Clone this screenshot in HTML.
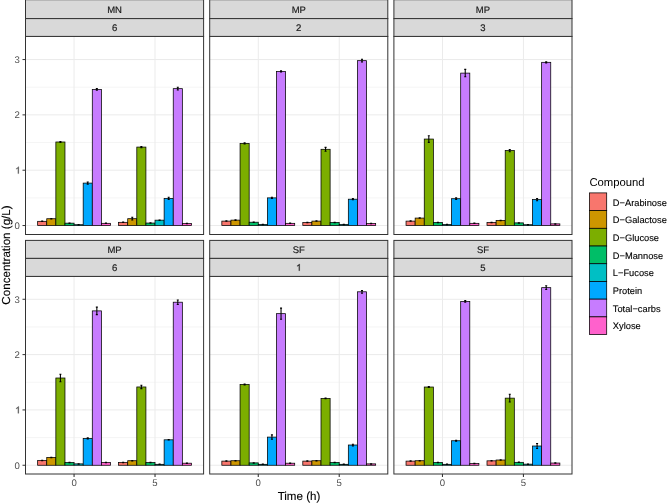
<!DOCTYPE html><html><head><meta charset="utf-8"><style>html,body{margin:0;padding:0;background:#fff;}svg{display:block;will-change:transform;}text{font-family:"Liberation Sans",sans-serif;}</style></head><body>
<svg width="668" height="503" viewBox="0 0 668 503" text-rendering="geometricPrecision">
<rect x="0" y="0" width="668" height="503" fill="#fff"/>
<line x1="25.5" x2="203.6" y1="197.88" y2="197.88" stroke="#EBEBEB" stroke-width="0.5"/>
<line x1="25.5" x2="203.6" y1="142.54" y2="142.54" stroke="#EBEBEB" stroke-width="0.5"/>
<line x1="25.5" x2="203.6" y1="87.22" y2="87.22" stroke="#EBEBEB" stroke-width="0.5"/>
<line x1="25.5" x2="203.6" y1="225.54" y2="225.54" stroke="#EBEBEB" stroke-width="1"/>
<line x1="25.5" x2="203.6" y1="170.21" y2="170.21" stroke="#EBEBEB" stroke-width="1"/>
<line x1="25.5" x2="203.6" y1="114.88" y2="114.88" stroke="#EBEBEB" stroke-width="1"/>
<line x1="25.5" x2="203.6" y1="59.55" y2="59.55" stroke="#EBEBEB" stroke-width="1"/>
<line x1="74.07" x2="74.07" y1="36.4" y2="234.5" stroke="#EBEBEB" stroke-width="1"/>
<line x1="155.03" x2="155.03" y1="36.4" y2="234.5" stroke="#EBEBEB" stroke-width="1"/>
<rect x="37.64" y="221.33" width="9.11" height="4.21" fill="#F8766D" stroke="#000" stroke-width="0.75"/>
<rect x="46.75" y="218.73" width="9.11" height="6.81" fill="#CD9600" stroke="#000" stroke-width="0.75"/>
<rect x="55.86" y="141.99" width="9.11" height="83.55" fill="#7CAE00" stroke="#000" stroke-width="0.75"/>
<rect x="64.97" y="223.16" width="9.11" height="2.38" fill="#00BE67" stroke="#000" stroke-width="0.75"/>
<rect x="74.07" y="224.71" width="9.11" height="0.83" fill="#00BFC4" stroke="#000" stroke-width="0.75"/>
<rect x="83.18" y="183.1" width="9.11" height="42.44" fill="#00A9FF" stroke="#000" stroke-width="0.75"/>
<rect x="92.29" y="89.43" width="9.11" height="136.11" fill="#C77CFF" stroke="#000" stroke-width="0.75"/>
<rect x="101.39" y="223.33" width="9.11" height="2.21" fill="#FF61CC" stroke="#000" stroke-width="0.75"/>
<path d="M41.18 221.11H43.21M42.2 221.11V221.56M41.18 221.56H43.21" stroke="#000" stroke-width="1.07" fill="none"/>
<path d="M50.29 218.51H52.32M51.3 218.51V218.96M50.29 218.96H52.32" stroke="#000" stroke-width="1.07" fill="none"/>
<path d="M59.4 141.44H61.42M60.41 141.44V142.54M59.4 142.54H61.42" stroke="#000" stroke-width="1.07" fill="none"/>
<path d="M68.51 222.94H70.53M69.52 222.94V223.38M68.51 223.38H70.53" stroke="#000" stroke-width="1.07" fill="none"/>
<path d="M77.61 224.49H79.64M78.63 224.49V224.93M77.61 224.93H79.64" stroke="#000" stroke-width="1.07" fill="none"/>
<path d="M86.72 182H88.75M87.73 182V184.21M86.72 184.21H88.75" stroke="#000" stroke-width="1.07" fill="none"/>
<path d="M95.83 88.6H97.85M96.84 88.6V90.26M95.83 90.26H97.85" stroke="#000" stroke-width="1.07" fill="none"/>
<path d="M104.94 223.11H106.96M105.95 223.11V223.55M104.94 223.55H106.96" stroke="#000" stroke-width="1.07" fill="none"/>
<rect x="118.6" y="222.33" width="9.11" height="3.21" fill="#F8766D" stroke="#000" stroke-width="0.75"/>
<rect x="127.71" y="218.68" width="9.11" height="6.86" fill="#CD9600" stroke="#000" stroke-width="0.75"/>
<rect x="136.81" y="147.08" width="9.11" height="78.46" fill="#7CAE00" stroke="#000" stroke-width="0.75"/>
<rect x="145.92" y="223.05" width="9.11" height="2.49" fill="#00BE67" stroke="#000" stroke-width="0.75"/>
<rect x="155.03" y="220.17" width="9.11" height="5.37" fill="#00BFC4" stroke="#000" stroke-width="0.75"/>
<rect x="164.13" y="198.43" width="9.11" height="27.11" fill="#00A9FF" stroke="#000" stroke-width="0.75"/>
<rect x="173.24" y="88.65" width="9.11" height="136.89" fill="#C77CFF" stroke="#000" stroke-width="0.75"/>
<rect x="182.35" y="223.6" width="9.11" height="1.94" fill="#FF61CC" stroke="#000" stroke-width="0.75"/>
<path d="M122.14 222.11H124.16M123.15 222.11V222.55M122.14 222.55H124.16" stroke="#000" stroke-width="1.07" fill="none"/>
<path d="M131.25 217.3H133.27M132.26 217.3V220.06M131.25 220.06H133.27" stroke="#000" stroke-width="1.07" fill="none"/>
<path d="M140.35 146.53H142.38M141.37 146.53V147.64M140.35 147.64H142.38" stroke="#000" stroke-width="1.07" fill="none"/>
<path d="M149.46 222.83H151.49M150.47 222.83V223.27M149.46 223.27H151.49" stroke="#000" stroke-width="1.07" fill="none"/>
<path d="M158.57 219.95H160.59M159.58 219.95V220.39M158.57 220.39H160.59" stroke="#000" stroke-width="1.07" fill="none"/>
<path d="M167.68 197.32H169.7M168.69 197.32V199.53M167.68 199.53H169.7" stroke="#000" stroke-width="1.07" fill="none"/>
<path d="M176.78 87.27H178.81M177.8 87.27V90.04M176.78 90.04H178.81" stroke="#000" stroke-width="1.07" fill="none"/>
<path d="M185.89 223.38H187.92M186.9 223.38V223.82M185.89 223.82H187.92" stroke="#000" stroke-width="1.07" fill="none"/>
<rect x="25.5" y="36.4" width="178.1" height="198.1" fill="none" stroke="#333333" stroke-width="1"/>
<rect x="25.5" y="-0.3" width="178.1" height="18.9" fill="#D9D9D9" stroke="#333333" stroke-width="1"/>
<text x="114.55" y="12.75" font-size="9.5" fill="#1A1A1A" stroke="#1A1A1A" stroke-width="0.18" text-anchor="middle">MN</text>
<rect x="25.5" y="18.6" width="178.1" height="17.8" fill="#D9D9D9" stroke="#333333" stroke-width="1"/>
<text x="114.55" y="31.2" font-size="9.5" fill="#1A1A1A" stroke="#1A1A1A" stroke-width="0.18" text-anchor="middle">6</text>
<line x1="22.5" x2="25.5" y1="225.54" y2="225.54" stroke="#333333" stroke-width="1"/>
<text x="19.8" y="228.94" font-size="9.6" fill="#4D4D4D" text-anchor="end">0</text>
<line x1="22.5" x2="25.5" y1="170.21" y2="170.21" stroke="#333333" stroke-width="1"/>
<path transform="translate(15.16,173.61) scale(0.00469,-0.00469)" d="M763 0L583 0L583 1147Q518 1085 413 1023Q307 961 223 930L223 1104Q374 1175 487 1276Q600 1377 647 1472L763 1472Z" fill="#4D4D4D" stroke="#4D4D4D" stroke-width="53.3"/>
<line x1="22.5" x2="25.5" y1="114.88" y2="114.88" stroke="#333333" stroke-width="1"/>
<text x="19.8" y="118.28" font-size="9.6" fill="#4D4D4D" text-anchor="end">2</text>
<line x1="22.5" x2="25.5" y1="59.55" y2="59.55" stroke="#333333" stroke-width="1"/>
<text x="19.8" y="62.95" font-size="9.6" fill="#4D4D4D" text-anchor="end">3</text>
<line x1="209.7" x2="387.8" y1="197.88" y2="197.88" stroke="#EBEBEB" stroke-width="0.5"/>
<line x1="209.7" x2="387.8" y1="142.54" y2="142.54" stroke="#EBEBEB" stroke-width="0.5"/>
<line x1="209.7" x2="387.8" y1="87.22" y2="87.22" stroke="#EBEBEB" stroke-width="0.5"/>
<line x1="209.7" x2="387.8" y1="225.54" y2="225.54" stroke="#EBEBEB" stroke-width="1"/>
<line x1="209.7" x2="387.8" y1="170.21" y2="170.21" stroke="#EBEBEB" stroke-width="1"/>
<line x1="209.7" x2="387.8" y1="114.88" y2="114.88" stroke="#EBEBEB" stroke-width="1"/>
<line x1="209.7" x2="387.8" y1="59.55" y2="59.55" stroke="#EBEBEB" stroke-width="1"/>
<line x1="258.27" x2="258.27" y1="36.4" y2="234.5" stroke="#EBEBEB" stroke-width="1"/>
<line x1="339.23" x2="339.23" y1="36.4" y2="234.5" stroke="#EBEBEB" stroke-width="1"/>
<rect x="221.84" y="221.11" width="9.11" height="4.43" fill="#F8766D" stroke="#000" stroke-width="0.75"/>
<rect x="230.95" y="220.12" width="9.11" height="5.42" fill="#CD9600" stroke="#000" stroke-width="0.75"/>
<rect x="240.06" y="143.37" width="9.11" height="82.17" fill="#7CAE00" stroke="#000" stroke-width="0.75"/>
<rect x="249.17" y="222.22" width="9.11" height="3.32" fill="#00BE67" stroke="#000" stroke-width="0.75"/>
<rect x="258.27" y="224.43" width="9.11" height="1.11" fill="#00BFC4" stroke="#000" stroke-width="0.75"/>
<rect x="267.38" y="197.88" width="9.11" height="27.66" fill="#00A9FF" stroke="#000" stroke-width="0.75"/>
<rect x="276.49" y="71.45" width="9.11" height="154.09" fill="#C77CFF" stroke="#000" stroke-width="0.75"/>
<rect x="285.59" y="223.33" width="9.11" height="2.21" fill="#FF61CC" stroke="#000" stroke-width="0.75"/>
<path d="M225.38 220.89H227.41M226.4 220.89V221.33M225.38 221.33H227.41" stroke="#000" stroke-width="1.07" fill="none"/>
<path d="M234.49 219.9H236.52M235.5 219.9V220.34M234.49 220.34H236.52" stroke="#000" stroke-width="1.07" fill="none"/>
<path d="M243.6 142.82H245.62M244.61 142.82V143.93M243.6 143.93H245.62" stroke="#000" stroke-width="1.07" fill="none"/>
<path d="M252.71 222H254.73M253.72 222V222.44M252.71 222.44H254.73" stroke="#000" stroke-width="1.07" fill="none"/>
<path d="M261.81 224.21H263.84M262.83 224.21V224.65M261.81 224.65H263.84" stroke="#000" stroke-width="1.07" fill="none"/>
<path d="M270.92 197.32H272.95M271.93 197.32V198.43M270.92 198.43H272.95" stroke="#000" stroke-width="1.07" fill="none"/>
<path d="M280.03 70.89H282.05M281.04 70.89V72M280.03 72H282.05" stroke="#000" stroke-width="1.07" fill="none"/>
<path d="M289.14 223.11H291.16M290.15 223.11V223.55M289.14 223.55H291.16" stroke="#000" stroke-width="1.07" fill="none"/>
<rect x="302.8" y="222.5" width="9.11" height="3.04" fill="#F8766D" stroke="#000" stroke-width="0.75"/>
<rect x="311.91" y="221.11" width="9.11" height="4.43" fill="#CD9600" stroke="#000" stroke-width="0.75"/>
<rect x="321.01" y="149.3" width="9.11" height="76.24" fill="#7CAE00" stroke="#000" stroke-width="0.75"/>
<rect x="330.12" y="222.5" width="9.11" height="3.04" fill="#00BE67" stroke="#000" stroke-width="0.75"/>
<rect x="339.23" y="224.43" width="9.11" height="1.11" fill="#00BFC4" stroke="#000" stroke-width="0.75"/>
<rect x="348.33" y="199.2" width="9.11" height="26.34" fill="#00A9FF" stroke="#000" stroke-width="0.75"/>
<rect x="357.44" y="60.66" width="9.11" height="164.88" fill="#C77CFF" stroke="#000" stroke-width="0.75"/>
<rect x="366.55" y="223.6" width="9.11" height="1.94" fill="#FF61CC" stroke="#000" stroke-width="0.75"/>
<path d="M306.34 222.28H308.36M307.35 222.28V222.72M306.34 222.72H308.36" stroke="#000" stroke-width="1.07" fill="none"/>
<path d="M315.45 220.89H317.47M316.46 220.89V221.33M315.45 221.33H317.47" stroke="#000" stroke-width="1.07" fill="none"/>
<path d="M324.55 147.36H326.58M325.57 147.36V151.23M324.55 151.23H326.58" stroke="#000" stroke-width="1.07" fill="none"/>
<path d="M333.66 222.28H335.69M334.67 222.28V222.72M333.66 222.72H335.69" stroke="#000" stroke-width="1.07" fill="none"/>
<path d="M342.77 224.21H344.79M343.78 224.21V224.65M342.77 224.65H344.79" stroke="#000" stroke-width="1.07" fill="none"/>
<path d="M351.88 198.65H353.9M352.89 198.65V199.76M351.88 199.76H353.9" stroke="#000" stroke-width="1.07" fill="none"/>
<path d="M360.98 59.27H363.01M362 59.27V62.04M360.98 62.04H363.01" stroke="#000" stroke-width="1.07" fill="none"/>
<path d="M370.09 223.38H372.12M371.1 223.38V223.82M370.09 223.82H372.12" stroke="#000" stroke-width="1.07" fill="none"/>
<rect x="209.7" y="36.4" width="178.1" height="198.1" fill="none" stroke="#333333" stroke-width="1"/>
<rect x="209.7" y="-0.3" width="178.1" height="18.9" fill="#D9D9D9" stroke="#333333" stroke-width="1"/>
<text x="298.75" y="12.75" font-size="9.5" fill="#1A1A1A" stroke="#1A1A1A" stroke-width="0.18" text-anchor="middle">MP</text>
<rect x="209.7" y="18.6" width="178.1" height="17.8" fill="#D9D9D9" stroke="#333333" stroke-width="1"/>
<text x="298.75" y="31.2" font-size="9.5" fill="#1A1A1A" stroke="#1A1A1A" stroke-width="0.18" text-anchor="middle">2</text>
<line x1="393.9" x2="572" y1="197.88" y2="197.88" stroke="#EBEBEB" stroke-width="0.5"/>
<line x1="393.9" x2="572" y1="142.54" y2="142.54" stroke="#EBEBEB" stroke-width="0.5"/>
<line x1="393.9" x2="572" y1="87.22" y2="87.22" stroke="#EBEBEB" stroke-width="0.5"/>
<line x1="393.9" x2="572" y1="225.54" y2="225.54" stroke="#EBEBEB" stroke-width="1"/>
<line x1="393.9" x2="572" y1="170.21" y2="170.21" stroke="#EBEBEB" stroke-width="1"/>
<line x1="393.9" x2="572" y1="114.88" y2="114.88" stroke="#EBEBEB" stroke-width="1"/>
<line x1="393.9" x2="572" y1="59.55" y2="59.55" stroke="#EBEBEB" stroke-width="1"/>
<line x1="442.47" x2="442.47" y1="36.4" y2="234.5" stroke="#EBEBEB" stroke-width="1"/>
<line x1="523.43" x2="523.43" y1="36.4" y2="234.5" stroke="#EBEBEB" stroke-width="1"/>
<rect x="406.04" y="221.11" width="9.11" height="4.43" fill="#F8766D" stroke="#000" stroke-width="0.75"/>
<rect x="415.15" y="218.07" width="9.11" height="7.47" fill="#CD9600" stroke="#000" stroke-width="0.75"/>
<rect x="424.26" y="139.06" width="9.11" height="86.48" fill="#7CAE00" stroke="#000" stroke-width="0.75"/>
<rect x="433.37" y="222.5" width="9.11" height="3.04" fill="#00BE67" stroke="#000" stroke-width="0.75"/>
<rect x="442.47" y="224.43" width="9.11" height="1.11" fill="#00BFC4" stroke="#000" stroke-width="0.75"/>
<rect x="451.58" y="198.7" width="9.11" height="26.84" fill="#00A9FF" stroke="#000" stroke-width="0.75"/>
<rect x="460.69" y="73.11" width="9.11" height="152.43" fill="#C77CFF" stroke="#000" stroke-width="0.75"/>
<rect x="469.79" y="223.33" width="9.11" height="2.21" fill="#FF61CC" stroke="#000" stroke-width="0.75"/>
<path d="M409.58 220.89H411.61M410.6 220.89V221.33M409.58 221.33H411.61" stroke="#000" stroke-width="1.07" fill="none"/>
<path d="M418.69 217.85H420.72M419.7 217.85V218.29M418.69 218.29H420.72" stroke="#000" stroke-width="1.07" fill="none"/>
<path d="M427.8 135.74H429.82M428.81 135.74V142.38M427.8 142.38H429.82" stroke="#000" stroke-width="1.07" fill="none"/>
<path d="M436.91 222.28H438.93M437.92 222.28V222.72M436.91 222.72H438.93" stroke="#000" stroke-width="1.07" fill="none"/>
<path d="M446.01 224.21H448.04M447.03 224.21V224.65M446.01 224.65H448.04" stroke="#000" stroke-width="1.07" fill="none"/>
<path d="M455.12 197.88H457.15M456.13 197.88V199.53M455.12 199.53H457.15" stroke="#000" stroke-width="1.07" fill="none"/>
<path d="M464.23 69.4H466.25M465.24 69.4V76.81M464.23 76.81H466.25" stroke="#000" stroke-width="1.07" fill="none"/>
<path d="M473.34 223.11H475.36M474.35 223.11V223.55M473.34 223.55H475.36" stroke="#000" stroke-width="1.07" fill="none"/>
<rect x="487" y="222.5" width="9.11" height="3.04" fill="#F8766D" stroke="#000" stroke-width="0.75"/>
<rect x="496.11" y="220.39" width="9.11" height="5.15" fill="#CD9600" stroke="#000" stroke-width="0.75"/>
<rect x="505.21" y="150.57" width="9.11" height="74.97" fill="#7CAE00" stroke="#000" stroke-width="0.75"/>
<rect x="514.32" y="222.88" width="9.11" height="2.66" fill="#00BE67" stroke="#000" stroke-width="0.75"/>
<rect x="523.43" y="224.71" width="9.11" height="0.83" fill="#00BFC4" stroke="#000" stroke-width="0.75"/>
<rect x="532.53" y="199.59" width="9.11" height="25.95" fill="#00A9FF" stroke="#000" stroke-width="0.75"/>
<rect x="541.64" y="62.32" width="9.11" height="163.22" fill="#C77CFF" stroke="#000" stroke-width="0.75"/>
<rect x="550.75" y="223.88" width="9.11" height="1.66" fill="#FF61CC" stroke="#000" stroke-width="0.75"/>
<path d="M490.54 222.28H492.56M491.55 222.28V222.72M490.54 222.72H492.56" stroke="#000" stroke-width="1.07" fill="none"/>
<path d="M499.65 220.17H501.67M500.66 220.17V220.62M499.65 220.62H501.67" stroke="#000" stroke-width="1.07" fill="none"/>
<path d="M508.75 149.46H510.78M509.77 149.46V151.67M508.75 151.67H510.78" stroke="#000" stroke-width="1.07" fill="none"/>
<path d="M517.86 222.66H519.89M518.87 222.66V223.11M517.86 223.11H519.89" stroke="#000" stroke-width="1.07" fill="none"/>
<path d="M526.97 224.49H528.99M527.98 224.49V224.93M526.97 224.93H528.99" stroke="#000" stroke-width="1.07" fill="none"/>
<path d="M536.08 198.48H538.1M537.09 198.48V200.7M536.08 200.7H538.1" stroke="#000" stroke-width="1.07" fill="none"/>
<path d="M545.18 61.76H547.21M546.2 61.76V62.87M545.18 62.87H547.21" stroke="#000" stroke-width="1.07" fill="none"/>
<path d="M554.29 223.66H556.32M555.3 223.66V224.1M554.29 224.1H556.32" stroke="#000" stroke-width="1.07" fill="none"/>
<rect x="393.9" y="36.4" width="178.1" height="198.1" fill="none" stroke="#333333" stroke-width="1"/>
<rect x="393.9" y="-0.3" width="178.1" height="18.9" fill="#D9D9D9" stroke="#333333" stroke-width="1"/>
<text x="482.95" y="12.75" font-size="9.5" fill="#1A1A1A" stroke="#1A1A1A" stroke-width="0.18" text-anchor="middle">MP</text>
<rect x="393.9" y="18.6" width="178.1" height="17.8" fill="#D9D9D9" stroke="#333333" stroke-width="1"/>
<text x="482.95" y="31.2" font-size="9.5" fill="#1A1A1A" stroke="#1A1A1A" stroke-width="0.18" text-anchor="middle">3</text>
<line x1="25.5" x2="203.6" y1="437.59" y2="437.59" stroke="#EBEBEB" stroke-width="0.5"/>
<line x1="25.5" x2="203.6" y1="382.26" y2="382.26" stroke="#EBEBEB" stroke-width="0.5"/>
<line x1="25.5" x2="203.6" y1="326.94" y2="326.94" stroke="#EBEBEB" stroke-width="0.5"/>
<line x1="25.5" x2="203.6" y1="465.26" y2="465.26" stroke="#EBEBEB" stroke-width="1"/>
<line x1="25.5" x2="203.6" y1="409.93" y2="409.93" stroke="#EBEBEB" stroke-width="1"/>
<line x1="25.5" x2="203.6" y1="354.6" y2="354.6" stroke="#EBEBEB" stroke-width="1"/>
<line x1="25.5" x2="203.6" y1="299.27" y2="299.27" stroke="#EBEBEB" stroke-width="1"/>
<line x1="74.07" x2="74.07" y1="276.4" y2="474" stroke="#EBEBEB" stroke-width="1"/>
<line x1="155.03" x2="155.03" y1="276.4" y2="474" stroke="#EBEBEB" stroke-width="1"/>
<rect x="37.64" y="460.5" width="9.11" height="4.76" fill="#F8766D" stroke="#000" stroke-width="0.75"/>
<rect x="46.75" y="457.4" width="9.11" height="7.86" fill="#CD9600" stroke="#000" stroke-width="0.75"/>
<rect x="55.86" y="378" width="9.11" height="87.26" fill="#7CAE00" stroke="#000" stroke-width="0.75"/>
<rect x="64.97" y="462.49" width="9.11" height="2.77" fill="#00BE67" stroke="#000" stroke-width="0.75"/>
<rect x="74.07" y="463.88" width="9.11" height="1.38" fill="#00BFC4" stroke="#000" stroke-width="0.75"/>
<rect x="83.18" y="438.42" width="9.11" height="26.84" fill="#00A9FF" stroke="#000" stroke-width="0.75"/>
<rect x="92.29" y="310.89" width="9.11" height="154.37" fill="#C77CFF" stroke="#000" stroke-width="0.75"/>
<rect x="101.39" y="462.49" width="9.11" height="2.77" fill="#FF61CC" stroke="#000" stroke-width="0.75"/>
<path d="M41.18 460.28H43.21M42.2 460.28V460.72M41.18 460.72H43.21" stroke="#000" stroke-width="1.07" fill="none"/>
<path d="M50.29 457.18H52.32M51.3 457.18V457.62M50.29 457.62H52.32" stroke="#000" stroke-width="1.07" fill="none"/>
<path d="M59.4 374.24H61.42M60.41 374.24V381.77M59.4 381.77H61.42" stroke="#000" stroke-width="1.07" fill="none"/>
<path d="M68.51 462.27H70.53M69.52 462.27V462.71M68.51 462.71H70.53" stroke="#000" stroke-width="1.07" fill="none"/>
<path d="M77.61 463.66H79.64M78.63 463.66V464.1M77.61 464.1H79.64" stroke="#000" stroke-width="1.07" fill="none"/>
<path d="M86.72 437.87H88.75M87.73 437.87V438.98M86.72 438.98H88.75" stroke="#000" stroke-width="1.07" fill="none"/>
<path d="M95.83 307.13H97.85M96.84 307.13V314.65M95.83 314.65H97.85" stroke="#000" stroke-width="1.07" fill="none"/>
<path d="M104.94 462.27H106.96M105.95 462.27V462.71M104.94 462.71H106.96" stroke="#000" stroke-width="1.07" fill="none"/>
<rect x="118.6" y="462.49" width="9.11" height="2.77" fill="#F8766D" stroke="#000" stroke-width="0.75"/>
<rect x="127.71" y="460.72" width="9.11" height="4.54" fill="#CD9600" stroke="#000" stroke-width="0.75"/>
<rect x="136.81" y="386.97" width="9.11" height="78.29" fill="#7CAE00" stroke="#000" stroke-width="0.75"/>
<rect x="145.92" y="462.49" width="9.11" height="2.77" fill="#00BE67" stroke="#000" stroke-width="0.75"/>
<rect x="155.03" y="464.32" width="9.11" height="0.94" fill="#00BFC4" stroke="#000" stroke-width="0.75"/>
<rect x="164.13" y="439.81" width="9.11" height="25.45" fill="#00A9FF" stroke="#000" stroke-width="0.75"/>
<rect x="173.24" y="302.2" width="9.11" height="163.06" fill="#C77CFF" stroke="#000" stroke-width="0.75"/>
<rect x="182.35" y="463.21" width="9.11" height="2.05" fill="#FF61CC" stroke="#000" stroke-width="0.75"/>
<path d="M122.14 462.27H124.16M123.15 462.27V462.71M122.14 462.71H124.16" stroke="#000" stroke-width="1.07" fill="none"/>
<path d="M131.25 460.5H133.27M132.26 460.5V460.94M131.25 460.94H133.27" stroke="#000" stroke-width="1.07" fill="none"/>
<path d="M140.35 385.31H142.38M141.37 385.31V388.63M140.35 388.63H142.38" stroke="#000" stroke-width="1.07" fill="none"/>
<path d="M149.46 462.27H151.49M150.47 462.27V462.71M149.46 462.71H151.49" stroke="#000" stroke-width="1.07" fill="none"/>
<path d="M158.57 464.1H160.59M159.58 464.1V464.54M158.57 464.54H160.59" stroke="#000" stroke-width="1.07" fill="none"/>
<path d="M167.68 439.59H169.7M168.69 439.59V440.03M167.68 440.03H169.7" stroke="#000" stroke-width="1.07" fill="none"/>
<path d="M176.78 299.99H178.81M177.8 299.99V304.42M176.78 304.42H178.81" stroke="#000" stroke-width="1.07" fill="none"/>
<path d="M185.89 462.99H187.92M186.9 462.99V463.43M185.89 463.43H187.92" stroke="#000" stroke-width="1.07" fill="none"/>
<rect x="25.5" y="276.4" width="178.1" height="197.6" fill="none" stroke="#333333" stroke-width="1"/>
<rect x="25.5" y="240.4" width="178.1" height="18" fill="#D9D9D9" stroke="#333333" stroke-width="1"/>
<text x="114.55" y="252.75" font-size="9.5" fill="#1A1A1A" stroke="#1A1A1A" stroke-width="0.18" text-anchor="middle">MP</text>
<rect x="25.5" y="258.4" width="178.1" height="18" fill="#D9D9D9" stroke="#333333" stroke-width="1"/>
<text x="114.55" y="270.75" font-size="9.5" fill="#1A1A1A" stroke="#1A1A1A" stroke-width="0.18" text-anchor="middle">6</text>
<line x1="22.5" x2="25.5" y1="465.26" y2="465.26" stroke="#333333" stroke-width="1"/>
<text x="19.8" y="468.66" font-size="9.6" fill="#4D4D4D" text-anchor="end">0</text>
<line x1="22.5" x2="25.5" y1="409.93" y2="409.93" stroke="#333333" stroke-width="1"/>
<path transform="translate(15.16,413.33) scale(0.00469,-0.00469)" d="M763 0L583 0L583 1147Q518 1085 413 1023Q307 961 223 930L223 1104Q374 1175 487 1276Q600 1377 647 1472L763 1472Z" fill="#4D4D4D" stroke="#4D4D4D" stroke-width="53.3"/>
<line x1="22.5" x2="25.5" y1="354.6" y2="354.6" stroke="#333333" stroke-width="1"/>
<text x="19.8" y="358" font-size="9.6" fill="#4D4D4D" text-anchor="end">2</text>
<line x1="22.5" x2="25.5" y1="299.27" y2="299.27" stroke="#333333" stroke-width="1"/>
<text x="19.8" y="302.67" font-size="9.6" fill="#4D4D4D" text-anchor="end">3</text>
<line x1="74.07" x2="74.07" y1="474" y2="477" stroke="#333333" stroke-width="1.07"/>
<text x="74.07" y="486" font-size="9.6" fill="#4D4D4D" text-anchor="middle">0</text>
<line x1="155.03" x2="155.03" y1="474" y2="477" stroke="#333333" stroke-width="1.07"/>
<text x="155.03" y="486" font-size="9.6" fill="#4D4D4D" text-anchor="middle">5</text>
<line x1="209.7" x2="387.8" y1="437.59" y2="437.59" stroke="#EBEBEB" stroke-width="0.5"/>
<line x1="209.7" x2="387.8" y1="382.26" y2="382.26" stroke="#EBEBEB" stroke-width="0.5"/>
<line x1="209.7" x2="387.8" y1="326.94" y2="326.94" stroke="#EBEBEB" stroke-width="0.5"/>
<line x1="209.7" x2="387.8" y1="465.26" y2="465.26" stroke="#EBEBEB" stroke-width="1"/>
<line x1="209.7" x2="387.8" y1="409.93" y2="409.93" stroke="#EBEBEB" stroke-width="1"/>
<line x1="209.7" x2="387.8" y1="354.6" y2="354.6" stroke="#EBEBEB" stroke-width="1"/>
<line x1="209.7" x2="387.8" y1="299.27" y2="299.27" stroke="#EBEBEB" stroke-width="1"/>
<line x1="258.27" x2="258.27" y1="276.4" y2="474" stroke="#EBEBEB" stroke-width="1"/>
<line x1="339.23" x2="339.23" y1="276.4" y2="474" stroke="#EBEBEB" stroke-width="1"/>
<rect x="221.84" y="461.11" width="9.11" height="4.15" fill="#F8766D" stroke="#000" stroke-width="0.75"/>
<rect x="230.95" y="460.72" width="9.11" height="4.54" fill="#CD9600" stroke="#000" stroke-width="0.75"/>
<rect x="240.06" y="384.48" width="9.11" height="80.78" fill="#7CAE00" stroke="#000" stroke-width="0.75"/>
<rect x="249.17" y="462.88" width="9.11" height="2.38" fill="#00BE67" stroke="#000" stroke-width="0.75"/>
<rect x="258.27" y="464.32" width="9.11" height="0.94" fill="#00BFC4" stroke="#000" stroke-width="0.75"/>
<rect x="267.38" y="437.1" width="9.11" height="28.16" fill="#00A9FF" stroke="#000" stroke-width="0.75"/>
<rect x="276.49" y="313.66" width="9.11" height="151.6" fill="#C77CFF" stroke="#000" stroke-width="0.75"/>
<rect x="285.59" y="463.21" width="9.11" height="2.05" fill="#FF61CC" stroke="#000" stroke-width="0.75"/>
<path d="M225.38 460.89H227.41M226.4 460.89V461.33M225.38 461.33H227.41" stroke="#000" stroke-width="1.07" fill="none"/>
<path d="M234.49 460.5H236.52M235.5 460.5V460.94M234.49 460.94H236.52" stroke="#000" stroke-width="1.07" fill="none"/>
<path d="M243.6 383.92H245.62M244.61 383.92V385.03M243.6 385.03H245.62" stroke="#000" stroke-width="1.07" fill="none"/>
<path d="M252.71 462.66H254.73M253.72 462.66V463.1M252.71 463.1H254.73" stroke="#000" stroke-width="1.07" fill="none"/>
<path d="M261.81 464.1H263.84M262.83 464.1V464.54M261.81 464.54H263.84" stroke="#000" stroke-width="1.07" fill="none"/>
<path d="M270.92 434.88H272.95M271.93 434.88V439.31M270.92 439.31H272.95" stroke="#000" stroke-width="1.07" fill="none"/>
<path d="M280.03 308.12H282.05M281.04 308.12V319.19M280.03 319.19H282.05" stroke="#000" stroke-width="1.07" fill="none"/>
<path d="M289.14 462.99H291.16M290.15 462.99V463.43M289.14 463.43H291.16" stroke="#000" stroke-width="1.07" fill="none"/>
<rect x="302.8" y="461.11" width="9.11" height="4.15" fill="#F8766D" stroke="#000" stroke-width="0.75"/>
<rect x="311.91" y="460.72" width="9.11" height="4.54" fill="#CD9600" stroke="#000" stroke-width="0.75"/>
<rect x="321.01" y="398.42" width="9.11" height="66.84" fill="#7CAE00" stroke="#000" stroke-width="0.75"/>
<rect x="330.12" y="462.49" width="9.11" height="2.77" fill="#00BE67" stroke="#000" stroke-width="0.75"/>
<rect x="339.23" y="464.32" width="9.11" height="0.94" fill="#00BFC4" stroke="#000" stroke-width="0.75"/>
<rect x="348.33" y="445.01" width="9.11" height="20.25" fill="#00A9FF" stroke="#000" stroke-width="0.75"/>
<rect x="357.44" y="291.8" width="9.11" height="173.46" fill="#C77CFF" stroke="#000" stroke-width="0.75"/>
<rect x="366.55" y="463.88" width="9.11" height="1.38" fill="#FF61CC" stroke="#000" stroke-width="0.75"/>
<path d="M306.34 460.89H308.36M307.35 460.89V461.33M306.34 461.33H308.36" stroke="#000" stroke-width="1.07" fill="none"/>
<path d="M315.45 460.5H317.47M316.46 460.5V460.94M315.45 460.94H317.47" stroke="#000" stroke-width="1.07" fill="none"/>
<path d="M324.55 398.14H326.58M325.57 398.14V398.7M324.55 398.7H326.58" stroke="#000" stroke-width="1.07" fill="none"/>
<path d="M333.66 462.27H335.69M334.67 462.27V462.71M333.66 462.71H335.69" stroke="#000" stroke-width="1.07" fill="none"/>
<path d="M342.77 464.1H344.79M343.78 464.1V464.54M342.77 464.54H344.79" stroke="#000" stroke-width="1.07" fill="none"/>
<path d="M351.88 444.18H353.9M352.89 444.18V445.84M351.88 445.84H353.9" stroke="#000" stroke-width="1.07" fill="none"/>
<path d="M360.98 290.42H363.01M362 290.42V293.18M360.98 293.18H363.01" stroke="#000" stroke-width="1.07" fill="none"/>
<path d="M370.09 463.66H372.12M371.1 463.66V464.1M370.09 464.1H372.12" stroke="#000" stroke-width="1.07" fill="none"/>
<rect x="209.7" y="276.4" width="178.1" height="197.6" fill="none" stroke="#333333" stroke-width="1"/>
<rect x="209.7" y="240.4" width="178.1" height="18" fill="#D9D9D9" stroke="#333333" stroke-width="1"/>
<text x="298.75" y="252.75" font-size="9.5" fill="#1A1A1A" stroke="#1A1A1A" stroke-width="0.18" text-anchor="middle">SF</text>
<rect x="209.7" y="258.4" width="178.1" height="18" fill="#D9D9D9" stroke="#333333" stroke-width="1"/>
<path transform="translate(296.11,270.75) scale(0.00464,-0.00464)" d="M763 0L583 0L583 1147Q518 1085 413 1023Q307 961 223 930L223 1104Q374 1175 487 1276Q600 1377 647 1472L763 1472Z" fill="#1A1A1A" stroke="#1A1A1A" stroke-width="38.8"/>
<line x1="258.27" x2="258.27" y1="474" y2="477" stroke="#333333" stroke-width="1.07"/>
<text x="258.27" y="486" font-size="9.6" fill="#4D4D4D" text-anchor="middle">0</text>
<line x1="339.23" x2="339.23" y1="474" y2="477" stroke="#333333" stroke-width="1.07"/>
<text x="339.23" y="486" font-size="9.6" fill="#4D4D4D" text-anchor="middle">5</text>
<line x1="393.9" x2="572" y1="437.59" y2="437.59" stroke="#EBEBEB" stroke-width="0.5"/>
<line x1="393.9" x2="572" y1="382.26" y2="382.26" stroke="#EBEBEB" stroke-width="0.5"/>
<line x1="393.9" x2="572" y1="326.94" y2="326.94" stroke="#EBEBEB" stroke-width="0.5"/>
<line x1="393.9" x2="572" y1="465.26" y2="465.26" stroke="#EBEBEB" stroke-width="1"/>
<line x1="393.9" x2="572" y1="409.93" y2="409.93" stroke="#EBEBEB" stroke-width="1"/>
<line x1="393.9" x2="572" y1="354.6" y2="354.6" stroke="#EBEBEB" stroke-width="1"/>
<line x1="393.9" x2="572" y1="299.27" y2="299.27" stroke="#EBEBEB" stroke-width="1"/>
<line x1="442.47" x2="442.47" y1="276.4" y2="474" stroke="#EBEBEB" stroke-width="1"/>
<line x1="523.43" x2="523.43" y1="276.4" y2="474" stroke="#EBEBEB" stroke-width="1"/>
<rect x="406.04" y="461.11" width="9.11" height="4.15" fill="#F8766D" stroke="#000" stroke-width="0.75"/>
<rect x="415.15" y="460.72" width="9.11" height="4.54" fill="#CD9600" stroke="#000" stroke-width="0.75"/>
<rect x="424.26" y="387.02" width="9.11" height="78.24" fill="#7CAE00" stroke="#000" stroke-width="0.75"/>
<rect x="433.37" y="462.49" width="9.11" height="2.77" fill="#00BE67" stroke="#000" stroke-width="0.75"/>
<rect x="442.47" y="464.32" width="9.11" height="0.94" fill="#00BFC4" stroke="#000" stroke-width="0.75"/>
<rect x="451.58" y="440.75" width="9.11" height="24.51" fill="#00A9FF" stroke="#000" stroke-width="0.75"/>
<rect x="460.69" y="301.48" width="9.11" height="163.78" fill="#C77CFF" stroke="#000" stroke-width="0.75"/>
<rect x="469.79" y="463.6" width="9.11" height="1.66" fill="#FF61CC" stroke="#000" stroke-width="0.75"/>
<path d="M409.58 460.89H411.61M410.6 460.89V461.33M409.58 461.33H411.61" stroke="#000" stroke-width="1.07" fill="none"/>
<path d="M418.69 460.5H420.72M419.7 460.5V460.94M418.69 460.94H420.72" stroke="#000" stroke-width="1.07" fill="none"/>
<path d="M427.8 386.47H429.82M428.81 386.47V387.58M427.8 387.58H429.82" stroke="#000" stroke-width="1.07" fill="none"/>
<path d="M436.91 462.27H438.93M437.92 462.27V462.71M436.91 462.71H438.93" stroke="#000" stroke-width="1.07" fill="none"/>
<path d="M446.01 464.1H448.04M447.03 464.1V464.54M446.01 464.54H448.04" stroke="#000" stroke-width="1.07" fill="none"/>
<path d="M455.12 440.2H457.15M456.13 440.2V441.3M455.12 441.3H457.15" stroke="#000" stroke-width="1.07" fill="none"/>
<path d="M464.23 300.65H466.25M465.24 300.65V302.31M464.23 302.31H466.25" stroke="#000" stroke-width="1.07" fill="none"/>
<path d="M473.34 463.38H475.36M474.35 463.38V463.82M473.34 463.82H475.36" stroke="#000" stroke-width="1.07" fill="none"/>
<rect x="487" y="460.83" width="9.11" height="4.43" fill="#F8766D" stroke="#000" stroke-width="0.75"/>
<rect x="496.11" y="460" width="9.11" height="5.26" fill="#CD9600" stroke="#000" stroke-width="0.75"/>
<rect x="505.21" y="398.14" width="9.11" height="67.12" fill="#7CAE00" stroke="#000" stroke-width="0.75"/>
<rect x="514.32" y="462.33" width="9.11" height="2.93" fill="#00BE67" stroke="#000" stroke-width="0.75"/>
<rect x="523.43" y="464.15" width="9.11" height="1.11" fill="#00BFC4" stroke="#000" stroke-width="0.75"/>
<rect x="532.53" y="446.01" width="9.11" height="19.25" fill="#00A9FF" stroke="#000" stroke-width="0.75"/>
<rect x="541.64" y="287.65" width="9.11" height="177.61" fill="#C77CFF" stroke="#000" stroke-width="0.75"/>
<rect x="550.75" y="463.05" width="9.11" height="2.21" fill="#FF61CC" stroke="#000" stroke-width="0.75"/>
<path d="M490.54 460.61H492.56M491.55 460.61V461.05M490.54 461.05H492.56" stroke="#000" stroke-width="1.07" fill="none"/>
<path d="M499.65 459.78H501.67M500.66 459.78V460.22M499.65 460.22H501.67" stroke="#000" stroke-width="1.07" fill="none"/>
<path d="M508.75 394.27H510.78M509.77 394.27V402.02M508.75 402.02H510.78" stroke="#000" stroke-width="1.07" fill="none"/>
<path d="M517.86 462.11H519.89M518.87 462.11V462.55M517.86 462.55H519.89" stroke="#000" stroke-width="1.07" fill="none"/>
<path d="M526.97 463.93H528.99M527.98 463.93V464.37M526.97 464.37H528.99" stroke="#000" stroke-width="1.07" fill="none"/>
<path d="M536.08 443.52H538.1M537.09 443.52V448.5M536.08 448.5H538.1" stroke="#000" stroke-width="1.07" fill="none"/>
<path d="M545.18 285.77H547.21M546.2 285.77V289.53M545.18 289.53H547.21" stroke="#000" stroke-width="1.07" fill="none"/>
<path d="M554.29 462.83H556.32M555.3 462.83V463.27M554.29 463.27H556.32" stroke="#000" stroke-width="1.07" fill="none"/>
<rect x="393.9" y="276.4" width="178.1" height="197.6" fill="none" stroke="#333333" stroke-width="1"/>
<rect x="393.9" y="240.4" width="178.1" height="18" fill="#D9D9D9" stroke="#333333" stroke-width="1"/>
<text x="482.95" y="252.75" font-size="9.5" fill="#1A1A1A" stroke="#1A1A1A" stroke-width="0.18" text-anchor="middle">SF</text>
<rect x="393.9" y="258.4" width="178.1" height="18" fill="#D9D9D9" stroke="#333333" stroke-width="1"/>
<text x="482.95" y="270.75" font-size="9.5" fill="#1A1A1A" stroke="#1A1A1A" stroke-width="0.18" text-anchor="middle">5</text>
<line x1="442.47" x2="442.47" y1="474" y2="477" stroke="#333333" stroke-width="1.07"/>
<text x="442.47" y="486" font-size="9.6" fill="#4D4D4D" text-anchor="middle">0</text>
<line x1="523.43" x2="523.43" y1="474" y2="477" stroke="#333333" stroke-width="1.07"/>
<text x="523.43" y="486" font-size="9.6" fill="#4D4D4D" text-anchor="middle">5</text>
<text x="299" y="499.5" font-size="11.6" fill="#000" stroke="#000" stroke-width="0.12" text-anchor="middle">Time (h)</text>
<text transform="translate(10,255.0) rotate(-90)" x="0" y="0" font-size="11.6" fill="#000" stroke="#000" stroke-width="0.12" text-anchor="middle">Concentration (g/L)</text>
<text x="589.4" y="185.9" font-size="11.3" fill="#000">Compound</text>
<rect x="589.4" y="192.9" width="17.3" height="17.71" fill="#F8766D" stroke="#000" stroke-width="0.75"/>
<text x="612.8" y="205.5" font-size="9.3" fill="#000" stroke="#000" stroke-width="0.12">D&#8722;Arabinose</text>
<rect x="589.4" y="210.61" width="17.3" height="17.71" fill="#CD9600" stroke="#000" stroke-width="0.75"/>
<text x="612.8" y="223.21" font-size="9.3" fill="#000" stroke="#000" stroke-width="0.12">D&#8722;Galactose</text>
<rect x="589.4" y="228.32" width="17.3" height="17.71" fill="#7CAE00" stroke="#000" stroke-width="0.75"/>
<text x="612.8" y="240.92" font-size="9.3" fill="#000" stroke="#000" stroke-width="0.12">D&#8722;Glucose</text>
<rect x="589.4" y="246.03" width="17.3" height="17.71" fill="#00BE67" stroke="#000" stroke-width="0.75"/>
<text x="612.8" y="258.63" font-size="9.3" fill="#000" stroke="#000" stroke-width="0.12">D&#8722;Mannose</text>
<rect x="589.4" y="263.74" width="17.3" height="17.71" fill="#00BFC4" stroke="#000" stroke-width="0.75"/>
<text x="612.8" y="276.34" font-size="9.3" fill="#000" stroke="#000" stroke-width="0.12">L&#8722;Fucose</text>
<rect x="589.4" y="281.45" width="17.3" height="17.71" fill="#00A9FF" stroke="#000" stroke-width="0.75"/>
<text x="612.8" y="294.05" font-size="9.3" fill="#000" stroke="#000" stroke-width="0.12">Protein</text>
<rect x="589.4" y="299.16" width="17.3" height="17.71" fill="#C77CFF" stroke="#000" stroke-width="0.75"/>
<text x="612.8" y="311.76" font-size="9.3" fill="#000" stroke="#000" stroke-width="0.12">Total&#8722;carbs</text>
<rect x="589.4" y="316.87" width="17.3" height="17.71" fill="#FF61CC" stroke="#000" stroke-width="0.75"/>
<text x="612.8" y="329.47" font-size="9.3" fill="#000" stroke="#000" stroke-width="0.12">Xylose</text>
</svg></body></html>
